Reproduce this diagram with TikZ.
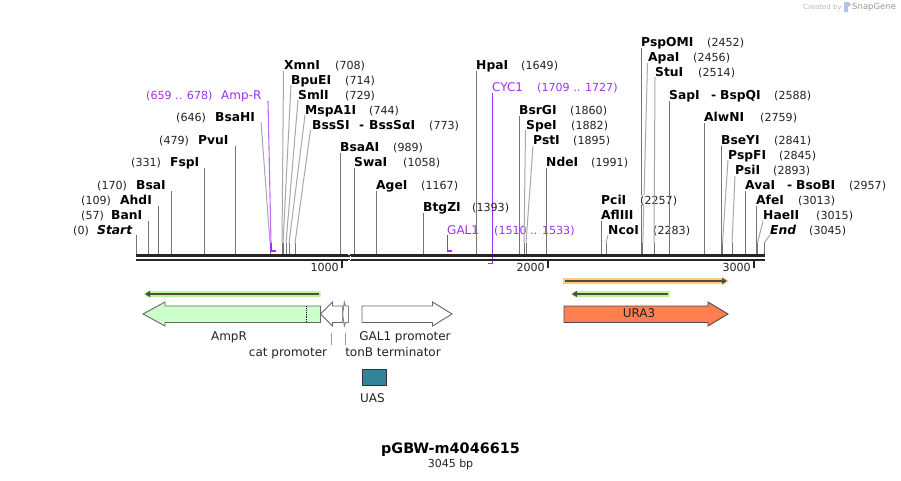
\documentclass[tikz,border=0pt]{standalone}
\usepackage{fontspec}
\setmainfont{DejaVu Sans}
\usetikzlibrary{arrows.meta}
\definecolor{purp}{HTML}{A030F0}
\definecolor{stemc}{HTML}{757575}
\definecolor{slantc}{HTML}{A8A8A8}
\definecolor{txt}{HTML}{222222}
\definecolor{halog}{HTML}{BDF59A}
\definecolor{haloo}{HTML}{FBCB7A}
\tikzset{
 x=1pt,y=1pt,
 lbl/.style={inner sep=0pt,anchor=west,text height=9.5pt,text depth=1pt,text=txt},
 enz/.style={lbl,font=\fontsize{12.3}{12}\selectfont\bfseries,text=black},
 enzit/.style={lbl,font=\fontsize{12.3}{12}\selectfont\bfseries\itshape,text=black},
 numl/.style={lbl,font=\fontsize{11.1}{12}\selectfont},
 purpl/.style={lbl,font=\fontsize{11.1}{12}\selectfont,text=purp},
 purpn/.style={lbl,font=\fontsize{12}{12}\selectfont,text=purp},
 veil/.style={fill=white,fill opacity=.75,text opacity=1},
 stem/.style={draw=stemc,line width=1pt},
 slant/.style={draw=slantc,line width=1pt},
 purpline/.style={draw=purp,line width=1.1pt},
 purpslant/.style={draw=purp!70,line width=1.1pt},
 bar/.style={draw=none,fill=black!85},
 tickm/.style={draw=black!85,line width=1.6pt},
 feat/.style={draw=black!60,line width=.9pt,line join=miter,fill=white},
 flabel/.style={font=\fontsize{12}{12}\selectfont,text=txt,inner sep=0pt,text height=9.5pt,text depth=1pt},
 leader/.style={draw=black!40,line width=.8pt},
 core/.style={draw=black!70,line width=1.8pt,-{Triangle[length=5pt,width=6pt]}},
}
% straight site: id, label x, y, name, number x, number, stem x, stem top y
\newcommand{\sitestr}[8]{%
 \node[enz] (#1) at (#2,-#3) {#4};
 \node[numl] (#1n) at (#5,-#3) {#6};
 \coordinate (#1t) at (#7,-#8);
 \coordinate (#1b) at (#7,-254);
 \draw[stem] (#1t) -- (#1b);
}
% slanted site: id, label x, y, name, number x, number, top x, top y, tick x
\newcommand{\siteslant}[9]{%
 \node[enz] (#1) at (#2,-#3) {#4};
 \node[numl] (#1n) at (#5,-#3) {#6};
 \coordinate (#1t) at (#7,-#8);
 \coordinate (#1k) at (#9,-243);
 \coordinate (#1b) at (#9,-254);
 \draw[slant] (#1t) -- (#1k);
 \draw[stem] (#1k) -- (#1b);
}
\begin{document}
\begin{tikzpicture}
\useasboundingbox (0,0) rectangle (901,-480);
% watermark
\node[inner sep=0pt,anchor=west,font=\fontsize{7}{8}\selectfont,text=black!28] (wm1) at (803,-7.5) {Created by};
\fill[cyan!45!blue!30] (844,-2) -- (849,-2) -- (851,-5) -- (848,-7) -- (848,-12) -- (844,-12) -- cycle;
\node[inner sep=0pt,anchor=west,font=\fontsize{8.5}{9}\selectfont,text=black!40] (wm2) at (852,-7.5) {SnapGene};
% long lines first
\coordinate (cyct) at (492.5,-93);
\coordinate (cycb) at (492.5,-263.5);
\coordinate (cycf) at (488,-263.5);
\draw[purpline] (cyct) -- (cycb) -- (cycf);
\sitestr{pspo}{641}{42}{PspOMI}{707}{(2452)}{641.5}{48}
\siteslant{apa}{648}{57}{ApaI}{693}{(2456)}{647.5}{63}{642.8}
% left sites
\node[enzit] (start) at (97,-230) {Start};
\node[numl] (startn) at (73,-230) {(0)};
\coordinate (startt) at (136.5,-235);
\coordinate (startb) at (136.5,-254);
\draw[stem] (startt) -- (startb);
\sitestr{ban}{111}{215}{BanI}{81}{(57)}{148.5}{221}
\sitestr{ahd}{120}{200}{AhdI}{81}{(109)}{158.5}{206}
\sitestr{bsa}{136}{185}{BsaI}{97}{(170)}{171.5}{191}
\sitestr{fsp}{170}{162}{FspI}{131}{(331)}{204.5}{168}
\sitestr{pvu}{198}{140}{PvuI}{159}{(479)}{235.5}{146}
\siteslant{bsah}{215}{117}{BsaHI}{176}{(646)}{261}{122}{270}
% Amp-R primer
\node[purpn] (ampr) at (221,-95) {Amp-R};
\node[purpl] (amprn) at (146,-95) {(659 .. 678)};
\coordinate (amprt) at (268,-101);
\coordinate (amprk) at (271,-243);
\coordinate (amprb) at (271,-251);
\coordinate (amprf) at (275.5,-251);
\draw[purpslant] (amprt) -- (amprk);
\draw[purpline] (amprk) -- (amprb) -- (amprf);
% sites after the primer
\siteslant{xmn}{284}{65}{XmnI}{335}{(708)}{283.5}{71}{282}
\siteslant{bpu}{291}{80}{BpuEI}{345}{(714)}{291}{85}{283}
\siteslant{sml}{298}{95}{SmlI}{345}{(729)}{298}{100}{286}
\siteslant{msp}{305}{110}{MspA1I}{369}{(744)}{305}{115}{289}
\siteslant{bss}{312}{125}{BssSI}{429}{(773)}{310.5}{130}{295}
\node[enz] (bssd) at (359,-125) {-};
\node[enz] (bssb) at (369,-125) {BssSαI};
\sitestr{bsaa}{340}{147}{BsaAI}{393}{(989)}{340.5}{153}
\sitestr{swa}{354}{162}{SwaI}{403}{(1058)}{354.5}{168}
\sitestr{age}{376}{185}{AgeI}{421}{(1167)}{376.5}{191}
\sitestr{btg}{423}{207}{BtgZI}{472}{(1393)}{423.5}{213}
% GAL1 primer
\node[purpn] (gal) at (447,-230) {GAL1};
\node[purpl,veil] (galn) at (494,-230) {(1510 .. 1533)};
\coordinate (galt) at (447.5,-235);
\coordinate (galb) at (447.5,-251);
\coordinate (galf) at (452,-251);
\draw[purpline] (galt) -- (galb) -- (galf);
\sitestr{hpa}{476}{65}{HpaI}{521}{(1649)}{476.5}{71}
\node[purpn] (cyc) at (492,-87) {CYC1};
\node[purpl] (cycn) at (537,-87) {(1709 .. 1727)};
\sitestr{bsr}{519}{110}{BsrGI}{570}{(1860)}{519.5}{116}
\siteslant{spe}{526}{125}{SpeI}{571}{(1882)}{525.5}{130}{524}
\siteslant{pst}{533}{140}{PstI}{573}{(1895)}{533}{146}{526}
\sitestr{nde}{546}{162}{NdeI}{591}{(1991)}{546.5}{168}
% right half
\node[enz] (pci) at (601,-200) {PciI};
\node[numl,veil] (pcin) at (640,-200) {(2257)};
\node[enz] (afl) at (601,-215) {AflIII};
\coordinate (aflt) at (601.5,-221);
\coordinate (aflb) at (601.5,-254);
\draw[stem] (aflt) -- (aflb);
\siteslant{nco}{608}{230}{NcoI}{653}{(2283)}{608}{235}{606}
\siteslant{stu}{655}{72}{StuI}{698}{(2514)}{655}{77}{654}
\sitestr{sap}{669}{95}{SapI}{774}{(2588)}{669.5}{101}
\node[enz] (sapd) at (711,-95) {-};
\node[enz] (sapb) at (720,-95) {BspQI};
\sitestr{alw}{704}{117}{AlwNI}{760}{(2759)}{704.5}{123}
\sitestr{bse}{721}{140}{BseYI}{774}{(2841)}{721.5}{146}
\siteslant{pspf}{728}{155}{PspFI}{779}{(2845)}{728}{160}{722.5}
\siteslant{psi}{735}{170}{PsiI}{773}{(2893)}{735}{176}{732}
\sitestr{ava}{745}{185}{AvaI}{849}{(2957)}{745.5}{191}
\node[enz] (avad) at (787,-185) {-};
\node[enz] (avab) at (796,-185) {BsoBI};
\sitestr{afe}{756}{200}{AfeI}{798}{(3013)}{756.5}{206}
\siteslant{hae}{763}{215}{HaeII}{816}{(3015)}{763}{221}{757.5}
\node[enzit] (endn) at (770,-230) {End};
\node[numl] (endnn) at (809,-230) {(3045)};
\coordinate (endt) at (770,-235);
\coordinate (endk) at (764,-243);
\coordinate (endb) at (764,-254);
\draw[slant] (endt) -- (endk);
\draw[stem] (endk) -- (endb);
% sequence bar
\fill[bar] (136,-254) rectangle (765,-257.4);
\fill[bar] (136,-258.5) rectangle (765,-261);
\foreach \yy/\xx in {254/348,255.5/349.5,257/348,258.5/349.5,260/348}
  \fill[white] (\xx,-\yy) rectangle (\xx+1.5,-\yy-1);
\coordinate (t1a) at (342,-261); \coordinate (t1b) at (342,-267.5);
\coordinate (t2a) at (548,-261); \coordinate (t2b) at (548,-267.5);
\coordinate (t3a) at (754,-261); \coordinate (t3b) at (754,-267.5);
\draw[tickm] (t1a) -- (t1b);
\draw[tickm] (t2a) -- (t2b);
\draw[tickm] (t3a) -- (t3b);
\node[numl,anchor=east] (k1) at (339,-267) {1000};
\node[numl,anchor=east] (k2) at (545,-267) {2000};
\node[numl,anchor=east] (k3) at (751,-267) {3000};
% translated / primer arrows
\fill[halog] (320.5,-291) -- (148,-291) -- (143.5,-294) -- (148,-297) -- (320.5,-297) -- cycle;
\coordinate (ga1) at (319,-294); \coordinate (ga2) at (145,-294);
\draw[core] (ga1) -- (ga2);
\fill[haloo] (563,-278) -- (723,-278) -- (722,-276.5) -- (729,-281) -- (722,-285.5) -- (723,-284) -- (563,-284) -- cycle;
\coordinate (oa1) at (565,-281); \coordinate (oa2) at (727,-281);
\draw[core] (oa1) -- (oa2);
\fill[halog] (669.5,-291) -- (575,-291) -- (570.5,-294) -- (575,-297) -- (669.5,-297) -- cycle;
\coordinate (gb1) at (668,-294); \coordinate (gb2) at (572,-294);
\draw[core] (gb1) -- (gb2);
% features
\draw[feat,fill={rgb,255:red,204;green,255;blue,204}] (320.5,-306) -- (165,-306) -- (165,-302) -- (143,-314) -- (165,-326) -- (165,-322.5) -- (320.5,-322.5) -- cycle;
\draw[black,line width=.9pt,densely dotted] (306.5,-306) -- (306.5,-322.5);
\draw[feat] (342.7,-306) -- (332.5,-306) -- (332.5,-302) -- (320.5,-314) -- (332.5,-326) -- (332.5,-322.5) -- (342.7,-322.5) -- cycle;
\draw[feat,draw=black!50] (344.3,-302) -- (345.5,-306) -- (348.5,-306) -- (348.5,-322.5) -- (345.5,-322.5) -- (344.3,-326) -- (342.7,-314) -- cycle;
\draw[feat] (362,-306) -- (432.5,-306) -- (432.5,-302) -- (452,-314) -- (432.5,-326) -- (432.5,-322.5) -- (362,-322.5) -- cycle;
\draw[feat,draw=black!70,fill={rgb,255:red,255;green,127;blue,80}] (564,-306) -- (708,-306) -- (708,-302) -- (728,-314) -- (708,-326) -- (708,-322.5) -- (564,-322.5) -- cycle;
\node[flabel] (ura) at (639,-313.5) {URA3};
\node[flabel] (ampl) at (229,-336) {AmpR};
\node[flabel] (gall) at (405,-336) {GAL1 promoter};
\node[flabel] (catl) at (288,-352) {cat promoter};
\node[flabel] (tonl) at (393,-352) {tonB terminator};
\coordinate (la1) at (331.5,-333); \coordinate (la2) at (331.5,-345);
\coordinate (lb1) at (345.5,-333); \coordinate (lb2) at (345.5,-345);
\draw[leader] (la1) -- (la2);
\draw[leader] (lb1) -- (lb2);
\draw[draw=black!80,line width=.9pt,fill={rgb,255:red,49;green,132;blue,155}] (362.5,-369.5) rectangle (386.5,-385);
\node[flabel] (uasl) at (372.5,-398) {UAS};
% title
\node[inner sep=0pt,font=\fontsize{14.4}{14}\selectfont\bfseries,text=black] (title) at (450.5,-450) {pGBW-m4046615};
\node[inner sep=0pt,font=\fontsize{11}{11}\selectfont,text=txt] (size) at (450.5,-464.5) {3045 bp};
\end{tikzpicture}
\end{document}
